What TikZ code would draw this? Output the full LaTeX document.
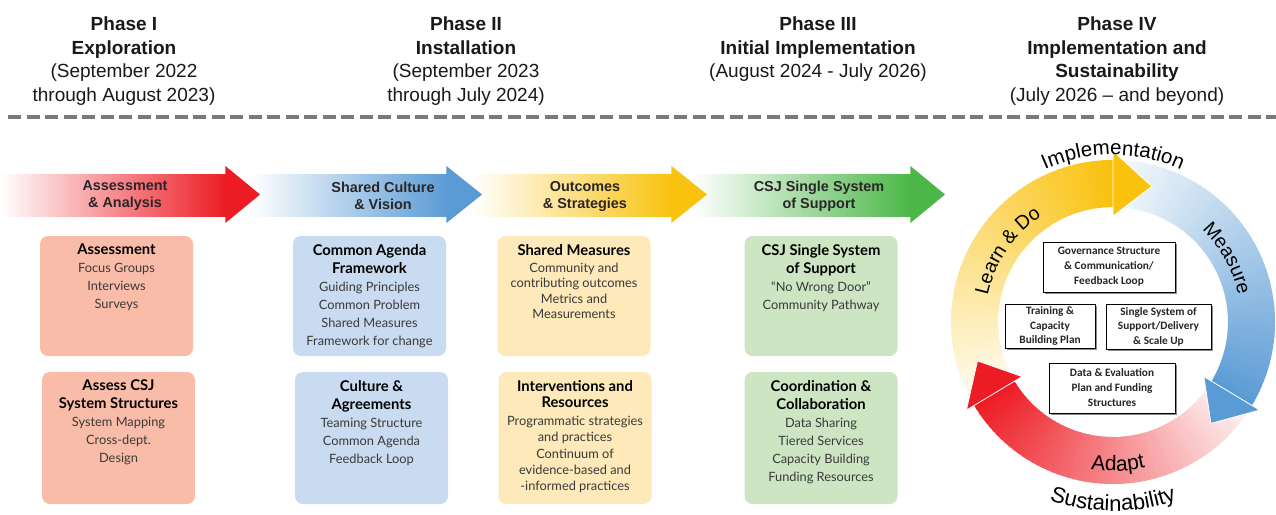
\documentclass[tikz,border=0pt]{standalone}
\usepackage{fontspec}
\setmainfont{Liberation Sans}
\newfontfamily\boxfont{Lato}
\newfontfamily\loopfont{Carlito}
\usetikzlibrary{arrows.meta,positioning,decorations.text,shadows}

\definecolor{redA}{HTML}{ED1C24}
\definecolor{blueA}{HTML}{5B9BD5}
\definecolor{ylwA}{HTML}{F9C20F}
\definecolor{grnA}{HTML}{4CB748}
\definecolor{redbox}{HTML}{F9BCA8}
\definecolor{bluebox}{HTML}{C9DBF0}
\definecolor{ylwbox}{HTML}{FDE9B9}
\definecolor{grnbox}{HTML}{CDE5C3}
\definecolor{rulegray}{HTML}{7A7A7A}
\definecolor{bodytxt}{HTML}{3A3A3A}
\definecolor{lbltxt}{HTML}{2A2628}

\newcommand\cardhead[1]{{\bfseries\color{black}\fontsize{14.8}{15}\selectfont#1}}

% band arrow: start x, head base x, tip x, colour
\newcommand\bandarrow[4]{%
  \shade[left color=white, middle color=#4!40!white, right color=#4] (#1,-174) rectangle (#2,-216);
  \fill[#4] (#2-0.6,-174) -- (#2-0.6,-166) -- (#3,-194.5) -- (#2-0.6,-223) -- (#2-0.6,-216) -- cycle;}

% ring band: start angle, end angle, colour (pale -> full)
\newcommand\ringband[3]{%
  \foreach \k in {0,...,59}{%
    \pgfmathsetmacro\bandA{#1+(#2-(#1))*\k/60}%
    \pgfmathsetmacro\bandB{#1+(#2-(#1))*(\k+1.4)/60}%
    \pgfmathtruncatemacro\bandP{5+95*\k/59}%
    \fill[#3!\bandP!white] (\bandA:115) arc[start angle=\bandA, end angle=\bandB, radius=115]
      -- (\bandB:162) arc[start angle=\bandB, end angle=\bandA, radius=162] -- cycle;
  }}

\begin{document}
\begin{tikzpicture}[
  x=1pt, y=1pt,
  phase/.style={align=center, inner sep=0pt, anchor=north, font=\fontsize{19}{23.5}\selectfont, text=black!90},
  bandlbl/.style={align=center, inner sep=0pt, font=\bfseries\fontsize{14.4}{17}\selectfont, text=lbltxt},
  card/.style={rounded corners=8pt, minimum width=153pt, inner sep=0pt},
  upcard/.style={card, minimum height=120pt},
  lowcard/.style={card, minimum height=132pt},
  cardtxt/.style={align=center, inner sep=0pt, anchor=north, font=\boxfont\fontsize{12.8}{18}\selectfont, text=bodytxt},
  loopbox/.style={draw=black, fill=white, line width=0.7pt, inner sep=2pt, align=center,
    font=\loopfont\bfseries\fontsize{11.3}{15}\selectfont, text=black!85,
    drop shadow={shadow xshift=1.8pt, shadow yshift=-1.8pt, fill=black, opacity=0.45}},
  ringlbl/.style={decorate, decoration={text along path, text align=center}}
]
\useasboundingbox (0,0) rectangle (1276,-514);

% phase headings
\node[phase] (ph1) at (124,-17) {\textbf{Phase I}\\\textbf{Exploration}\\(September 2022\\through August 2023)};
\node[phase] (ph2) at (466,-17) {\textbf{Phase II}\\\textbf{Installation}\\(September 2023\\through July 2024)};
\node[phase] (ph3) at (818,-17) {\textbf{Phase III}\\\textbf{Initial Implementation}\\(August 2024 - July 2026)};
\node[phase] (ph4) at (1117,-17) {\textbf{Phase IV}\\\textbf{Implementation and}\\\textbf{Sustainability}\\(July 2026 – and beyond)};
\draw[rulegray, line width=4pt, dash pattern=on 13pt off 5.5pt] (8,-117) -- (1276,-117);

% band of arrows
\bandarrow{692}{911}{945}{grnA}
\bandarrow{472}{672}{707}{ylwA}
\bandarrow{250}{447}{482}{blueA}
\bandarrow{0}{226}{260}{redA}
\node[bandlbl] (lbl1) at (125,-196) {Assessment\\\& Analysis};
\node[bandlbl] (lbl2) at (383,-196) {Shared Culture\\\& Vision};
\node[bandlbl] (lbl3) at (585,-196) {Outcomes\\\& Strategies};
\node[bandlbl] (lbl4) at (819,-196) {CSJ Single System\\of Support};

% cards
\node[upcard, fill=redbox] (c1a) at (116.5,-296) {};
\node[cardtxt, below=8pt of c1a.north] {\cardhead{Assessment}\\Focus Groups\\Interviews\\Surveys};
\node[lowcard, fill=redbox] (c1b) at (118.5,-438) {};
\node[cardtxt, below=8pt of c1b.north] {\cardhead{Assess CSJ}\\\cardhead{System Structures}\\System Mapping\\Cross-dept.\\Design};

\node[upcard, fill=bluebox] (c2a) at (369.5,-296) {};
\node[cardtxt, below=8pt of c2a.north] {\cardhead{Common Agenda}\\\cardhead{Framework}\\Guiding Principles\\Common Problem\\Shared Measures\\Framework for change};
\node[lowcard, fill=bluebox] (c2b) at (371.5,-438) {};
\node[cardtxt, below=8pt of c2b.north] {\cardhead{Culture \&}\\\cardhead{Agreements}\\Teaming Structure\\Common Agenda\\Feedback Loop};

\node[upcard, fill=ylwbox] (c3a) at (574,-296) {};
\node[cardtxt, below=8pt of c3a.north, font=\boxfont\fontsize{12.8}{15.5}\selectfont] {\cardhead{Shared Measures}\\[1.5pt]Community and\\contributing outcomes\\Metrics and\\Measurements};
\node[lowcard, fill=ylwbox] (c3b) at (575,-438) {};
\node[cardtxt, below=8pt of c3b.north, font=\boxfont\fontsize{12.8}{16}\selectfont] {\cardhead{Interventions and}\\\cardhead{Resources}\\[2pt]Programmatic strategies\\and practices\\[1pt]Continuum of\\evidence-based and\\-informed practices};

\node[upcard, fill=grnbox] (c4a) at (821,-296) {};
\node[cardtxt, below=8pt of c4a.north] {\cardhead{CSJ Single System}\\\cardhead{of Support}\\“No Wrong Door”\\Community Pathway};
\node[lowcard, fill=grnbox] (c4b) at (821,-438) {};
\node[cardtxt, below=8pt of c4b.north] {\cardhead{Coordination \&}\\\cardhead{Collaboration}\\Data Sharing\\Tiered Services\\Capacity Building\\Funding Resources};

% cycle
\begin{scope}[shift={(1113,-322)}]
  \ringband{211}{90}{ylwA}
  \ringband{90}{-31}{blueA}
  \ringband{-31}{-149}{redA}
  \fill[ylwA, draw=white, line width=0.8pt] (90:106) -- (90:171) -- (74:141) -- cycle;
  \fill[blueA, draw=white, line width=0.8pt] (-31:106) -- (-31:171) -- (-46:141) -- cycle;
  \fill[redA, draw=white, line width=0.8pt] (211:106) -- (211:171) -- (196:141) -- cycle;
  \path[ringlbl, decoration={text={|\fontsize{20.5}{24}\selectfont|Implementation}}] (150:167) arc[start angle=150, end angle=30, radius=167];
  \path[ringlbl, decoration={text={|\fontsize{19.5}{23}\selectfont|Measure}}] (89:128) arc[start angle=89, end angle=-31, radius=128];
  \path[ringlbl, decoration={text={|\fontsize{19.5}{23}\selectfont|Learn {\&} Do}}] (206:128) arc[start angle=206, end angle=86, radius=128];
  \path[ringlbl, decoration={text={|\fontsize{21}{24}\selectfont|Adapt}}] (-148:149) arc[start angle=-148, end angle=-28, radius=149];
  \path[ringlbl, decoration={text={|\fontsize{22}{26}\selectfont|Sustainability}}] (-150:189) arc[start angle=-150, end angle=-30, radius=189];
\end{scope}

\node[loopbox, minimum width=132pt, minimum height=50pt] (gov) at (1109,-267) {Governance Structure\\\& Communication/\\Feedback Loop};
\node[loopbox, minimum width=90pt, minimum height=44pt, font=\loopfont\bfseries\fontsize{11.3}{14.5}\selectfont] (train) at (1050,-326) {Training \&\\Capacity\\Building Plan};
\node[loopbox, minimum width=105pt, minimum height=45pt, font=\loopfont\bfseries\fontsize{11.3}{14.5}\selectfont] (single) at (1158.5,-326.5) {Single System of\\Support/Delivery\\\& Scale Up};
\node[loopbox, minimum width=126pt, minimum height=50pt] (data) at (1112,-388) {Data \& Evaluation\\Plan and Funding\\Structures};
\end{tikzpicture}
\end{document}
